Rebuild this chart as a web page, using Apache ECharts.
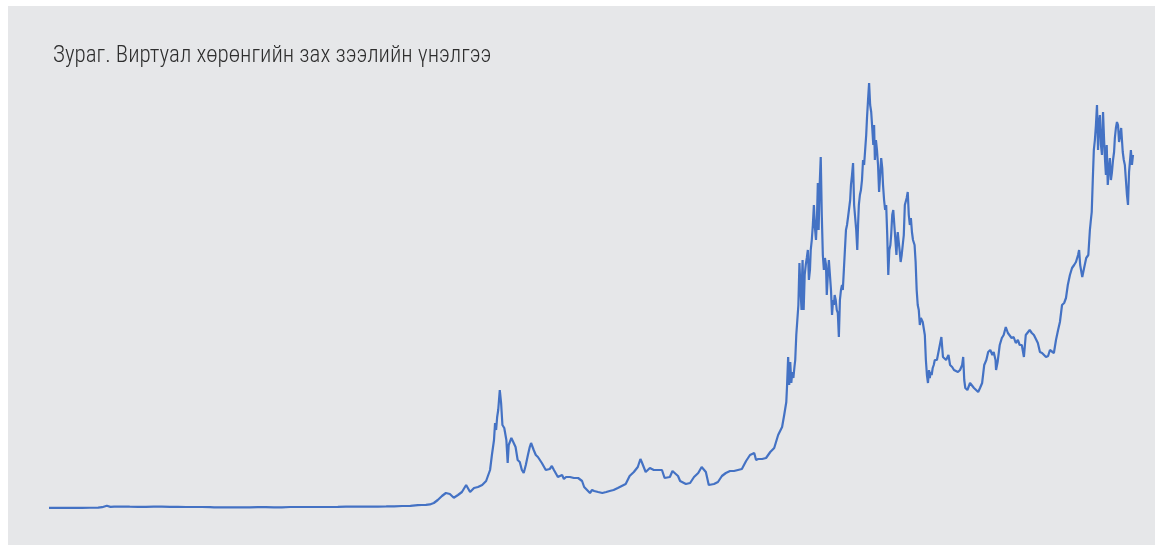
<!DOCTYPE html>
<html>
<head>
<meta charset="utf-8">
<script src="https://cdn.jsdelivr.net/npm/echarts@6/dist/echarts.min.js"></script>
<style>
html,body{margin:0;padding:0;background:#ffffff;width:1155px;height:545px;overflow:hidden;}
#chart{position:absolute;left:8px;top:6px;width:1147px;height:539px;}
</style>
</head>
<body>
<div id="chart"></div>
<script>
const titleText = "Зураг. Виртуал хөрөнгийн зах зээлийн үнэлгээ";

// Total crypto market capitalisation, billion USD
const dates = [
"2013-04-28","2013-06-01","2013-07-01","2013-08-01","2013-09-01","2013-10-01","2013-11-01","2013-11-16","2013-12-04","2013-12-18",
"2014-01-01","2014-02-01","2014-03-01","2014-04-01","2014-05-01","2014-06-01","2014-07-01","2014-08-01","2014-09-01","2014-10-01","2014-11-01","2014-12-01",
"2015-01-01","2015-01-16","2015-02-01","2015-03-01","2015-04-01","2015-05-01","2015-06-01","2015-07-01","2015-08-01","2015-09-01","2015-10-01","2015-11-01","2015-12-01",
"2016-01-01","2016-02-01","2016-03-01","2016-04-01","2016-05-01","2016-06-01","2016-07-01","2016-08-01","2016-09-01","2016-10-01","2016-11-01","2016-12-01",
"2017-01-01","2017-02-01","2017-03-01","2017-03-16","2017-04-01","2017-04-16","2017-05-01","2017-05-16","2017-06-01","2017-06-16",
"2017-07-01","2017-07-16","2017-08-01","2017-08-16","2017-09-01","2017-09-16","2017-10-01","2017-10-16","2017-11-01","2017-11-16",
"2017-12-01","2017-12-08","2017-12-16","2017-12-20","2017-12-24","2017-12-28",
"2018-01-01","2018-01-07","2018-01-12","2018-01-17","2018-01-24","2018-02-01","2018-02-06","2018-02-10","2018-02-20",
"2018-03-01","2018-03-08","2018-03-16","2018-03-24","2018-04-01","2018-04-08","2018-04-16","2018-04-24",
"2018-05-01","2018-05-06","2018-05-16","2018-05-24","2018-06-01","2018-06-16","2018-07-01","2018-07-16","2018-07-24",
"2018-08-01","2018-08-16","2018-09-01","2018-09-08","2018-09-16","2018-10-01","2018-10-16","2018-11-01","2018-11-16","2018-11-24",
"2018-12-01","2018-12-16","2018-12-24",
"2019-01-01","2019-01-16","2019-02-01","2019-02-16","2019-03-01","2019-03-16","2019-04-01","2019-04-16","2019-05-01","2019-05-16",
"2019-06-01","2019-06-16","2019-06-26","2019-07-01","2019-07-16","2019-08-01","2019-08-08","2019-08-16","2019-09-01","2019-09-16","2019-09-26",
"2019-10-01","2019-10-16","2019-10-26","2019-11-01","2019-11-16","2019-11-24","2019-12-01","2019-12-16",
"2020-01-01","2020-01-16","2020-02-01","2020-02-14","2020-03-01","2020-03-12","2020-03-16","2020-04-01","2020-04-16","2020-05-01","2020-05-16",
"2020-06-01","2020-06-16","2020-07-01","2020-07-16","2020-08-01","2020-08-16","2020-09-01","2020-09-08","2020-09-16","2020-10-01","2020-10-16",
"2020-11-01","2020-11-16","2020-12-01","2020-12-16","2020-12-24",
"2021-01-01","2021-01-04","2021-01-08","2021-01-12","2021-01-16","2021-01-20","2021-01-24","2021-01-28",
"2021-02-01","2021-02-04","2021-02-08","2021-02-12","2021-02-16","2021-02-20","2021-02-24","2021-02-28",
"2021-03-01","2021-03-04","2021-03-08","2021-03-12","2021-03-16","2021-03-20","2021-03-24","2021-03-28",
"2021-04-01","2021-04-04","2021-04-08","2021-04-12","2021-04-16","2021-04-20","2021-04-24","2021-04-28",
"2021-05-01","2021-05-04","2021-05-08","2021-05-12","2021-05-16","2021-05-20","2021-05-24","2021-05-28",
"2021-06-01","2021-06-04","2021-06-08","2021-06-12","2021-06-16","2021-06-20","2021-06-24","2021-06-28",
"2021-07-01","2021-07-04","2021-07-08","2021-07-12","2021-07-16","2021-07-20","2021-07-24","2021-07-28",
"2021-08-01","2021-08-04","2021-08-08","2021-08-12","2021-08-16","2021-08-20","2021-08-24","2021-08-28",
"2021-09-01","2021-09-04","2021-09-08","2021-09-12","2021-09-16","2021-09-20","2021-09-24","2021-09-28",
"2021-10-01","2021-10-04","2021-10-08","2021-10-12","2021-10-16","2021-10-20","2021-10-24","2021-10-28",
"2021-11-01","2021-11-04","2021-11-08","2021-11-12","2021-11-16","2021-11-20","2021-11-24","2021-11-28",
"2021-12-01","2021-12-04","2021-12-08","2021-12-12","2021-12-16","2021-12-20","2021-12-24","2021-12-28",
"2022-01-01","2022-01-04","2022-01-08","2022-01-12","2022-01-16","2022-01-20","2022-01-24","2022-01-28",
"2022-02-01","2022-02-04","2022-02-08","2022-02-12","2022-02-16","2022-02-20","2022-02-24","2022-02-28",
"2022-03-01","2022-03-04","2022-03-08","2022-03-12","2022-03-16","2022-03-20","2022-03-24","2022-03-28",
"2022-04-01","2022-04-04","2022-04-08","2022-04-12","2022-04-16","2022-04-20","2022-04-24","2022-04-28",
"2022-05-01","2022-05-04","2022-05-08","2022-05-12","2022-05-16","2022-05-20","2022-05-24","2022-05-28",
"2022-06-01","2022-06-04","2022-06-08","2022-06-12","2022-06-16","2022-06-20","2022-06-24","2022-06-28",
"2022-07-01","2022-07-04","2022-07-08","2022-07-12","2022-07-16","2022-07-20","2022-07-24","2022-07-28",
"2022-08-01","2022-08-14","2022-08-20","2022-09-01","2022-09-10","2022-09-16","2022-09-24",
"2022-10-01","2022-10-16","2022-10-24","2022-11-01","2022-11-05","2022-11-09","2022-11-13","2022-11-21","2022-12-01","2022-12-16","2022-12-24",
"2023-01-01","2023-01-08","2023-01-16","2023-01-24","2023-02-01","2023-02-08","2023-02-16","2023-02-24",
"2023-03-01","2023-03-08","2023-03-10","2023-03-16","2023-03-24","2023-04-01","2023-04-08","2023-04-16","2023-04-24",
"2023-05-01","2023-05-08","2023-05-16","2023-05-24","2023-06-01","2023-06-08","2023-06-16","2023-06-24",
"2023-07-01","2023-07-08","2023-07-16","2023-07-24","2023-08-01","2023-08-08","2023-08-16","2023-08-24",
"2023-09-01","2023-09-08","2023-09-16","2023-09-24","2023-10-01","2023-10-08","2023-10-16","2023-10-24",
"2023-11-01","2023-11-08","2023-11-16","2023-11-24","2023-12-01","2023-12-08","2023-12-16","2023-12-24",
"2024-01-01","2024-01-08","2024-01-16","2024-01-20","2024-01-24","2024-02-01","2024-02-08","2024-02-16","2024-02-24",
"2024-03-01","2024-03-04","2024-03-08","2024-03-12","2024-03-16","2024-03-20","2024-03-24","2024-03-28",
"2024-04-01","2024-04-04","2024-04-08","2024-04-12","2024-04-16","2024-04-20","2024-04-24","2024-04-28",
"2024-05-01","2024-05-04","2024-05-08","2024-05-12","2024-05-16","2024-05-20","2024-05-24","2024-05-28",
"2024-06-01","2024-06-04","2024-06-08","2024-06-12","2024-06-16","2024-06-20","2024-06-24","2024-06-28",
"2024-07-01","2024-07-04","2024-07-08","2024-07-12","2024-07-16","2024-07-20","2024-07-24","2024-07-28",
"2024-08-01","2024-08-04","2024-08-08","2024-08-12"
];

const marketCap = [
1.5,1.2,1.0,1.2,1.5,1.8,2.6,5.5,16,8,
10,10,9,8,8,9,9,8,8,7,7,7,
6,4,5,5,5,5,5,6,6,5,5,7,7,
7,7,7,7,8,10,10,9,9,10,11,12,
14,15,20,21,22,25,35,56,84,105,
98,72,91,112,161,112,140,147,161,189,
266,371,476,595,546,637,
686,826,735,581,560,476,315,441,490,
455,427,336,322,266,245,301,371,
427,455,406,371,357,315,266,273,294,
266,217,231,203,217,217,210,210,189,147,
133,105,126,
119,112,105,112,119,126,140,154,168,224,
252,287,343,322,252,280,294,266,266,266,210,
217,217,259,245,224,189,189,168,
175,217,245,287,252,161,147,168,182,224,245,
259,259,266,273,329,371,385,336,343,343,350,
392,420,511,567,651,
742,861,1057,861,1022,875,952,910,
987,1036,1211,1316,1421,1715,1526,1386,
1561,1736,1386,1631,1701,1750,1806,1596,
1666,1806,1876,1981,2121,1960,1876,2051,
2275,1946,2261,2457,2051,1771,1666,1750,
1701,1491,1631,1736,1631,1526,1351,1456,
1421,1491,1456,1386,1365,1197,1456,1526,
1561,1526,1666,1806,1946,1981,2037,2051,
2156,2261,2331,2415,2121,2107,1946,1806,
1981,2121,2191,2226,2296,2436,2401,2506,
2611,2730,2856,2975,2821,2772,2660,2541,
2681,2436,2576,2506,2401,2212,2331,2450,
2380,2261,2156,2086,2121,1911,1631,1806,
1841,1911,2051,2086,1981,1876,1771,1911,
1932,1876,1806,1722,1771,1841,1911,2121,
2121,2170,2212,2051,1981,2030,1932,1876,
1876,1841,1722,1526,1421,1386,1281,1330,
1330,1302,1316,1211,1036,931,875,966,
910,952,931,980,1001,1036,1050,1036,
1050,1197,1057,1036,1071,1001,987,
966,952,966,1001,1057,896,840,826,875,840,826,
812,840,875,1001,1036,1092,1106,1071,
1092,1036,966,1022,1141,1190,1211,1267,1225,
1225,1190,1197,1155,1176,1141,1141,1057,
1211,1225,1246,1225,1211,1197,1155,1092,
1085,1071,1057,1064,1106,1092,1085,1176,
1246,1302,1421,1435,1470,1561,1631,1680,
1701,1722,1771,1806,1701,1617,1680,1750,1771,
1946,2002,2072,2296,2506,2576,2681,2821,
2506,2681,2751,2541,2471,2772,2576,2422,
2331,2541,2261,2366,2450,2296,2352,2436,
2492,2590,2660,2702,2681,2562,2611,2660,
2576,2492,2436,2401,2296,2191,2121,2352,
2366,2506,2401,2471
];

const seriesData = dates.map((d, i) => [d, marketCap[i]]);

const chart = echarts.init(document.getElementById('chart'), null, {renderer: 'canvas'});
chart.setOption({
  animation: false,
  backgroundColor: '#e6e7e9',
  title: {
    text: titleText,
    left: 45,
    top: 39,
    padding: 0,
    textStyle: {
      fontFamily: "'Liberation Sans Narrow', 'Roboto Condensed', 'DejaVu Sans Condensed', sans-serif",
      fontSize: 23,
      fontWeight: 300,
      color: '#2e2e2e'
    }
  },
  grid: {left: 41, right: 22, top: 52, bottom: 37, containLabel: false},
  xAxis: {
    type: 'time',
    min: 'dataMin',
    max: 'dataMax',
    show: false
  },
  yAxis: {
    type: 'value',
    min: 0,
    max: 3150,
    show: false
  },
  series: [{
    type: 'line',
    data: seriesData,
    showSymbol: false,
    symbol: 'none',
    lineStyle: {color: '#4472c4', width: 2.2},
    itemStyle: {color: '#4472c4'}
  }]
});
</script>
</body>
</html>
